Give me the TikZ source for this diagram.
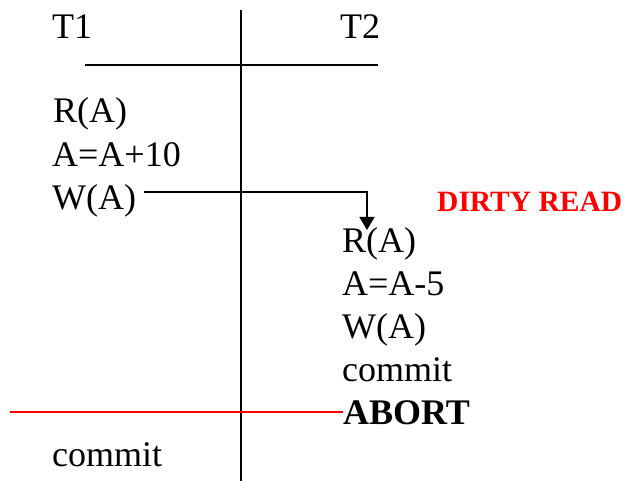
\documentclass[tikz,border=0pt]{standalone}
\usepackage{fontspec}
\setmainfont{Liberation Serif}
\usetikzlibrary{arrows.meta}
\begin{document}
\begin{tikzpicture}[x=1pt,y=-1pt,
  op/.style={anchor=base west,inner sep=0pt,font=\fontsize{36}{40}\selectfont},
  rule/.style={line width=1.4pt,black},
  flow/.style={line width=1.2pt,-{Triangle[length=13pt,width=15pt]}},
  note/.style={anchor=base west,inner sep=0pt,text=red,font=\fontsize{29.5}{32}\selectfont\bfseries}]
\useasboundingbox (0,0) rectangle (625,481);
% column headers and schedule grid
\node[op] (t1) at (52,39) {T1};
\node[op] (t2) at (340,39) {T2};
\coordinate (vtop) at (241,10);
\coordinate (vbot) at (241,481);
\coordinate (hl) at (85,65);
\coordinate (hr) at (378,65);
\draw[rule] (vtop) -- (vbot);
\draw[rule] (hl) -- (hr);
% operations of T1
\node[op] (a1) at (53,123) {R(A)};
\node[op] (a2) at (52,167) {A=A+10};
\node[op] (a3) at (52,210) {W(A)};
\node[op] (a4) at (52,467) {commit};
% operations of T2
\node[op] (b1) at (342,253) {R(A)};
\node[op] (b2) at (342,296) {A=A-5};
\node[op] (b3) at (342,339) {W(A)};
\node[op] (b4) at (342,382) {commit};
\node[op,font=\fontsize{36}{40}\selectfont\bfseries] (b5) at (343,425) {ABORT};
% write of T1 read by T2
\coordinate (wstart) at (144,192);
\coordinate (bend) at (367,192);
\coordinate (rtip) at (367,230);
\draw[flow] (wstart) -- (bend) -- (rtip);
\node[note] (dirty) at (437,212) {DIRTY READ};
% abort marker
\coordinate (abl) at (10,412);
\draw[red,line width=1.2pt] (abl) -- (abl -| b5.west);
\end{tikzpicture}
\end{document}
